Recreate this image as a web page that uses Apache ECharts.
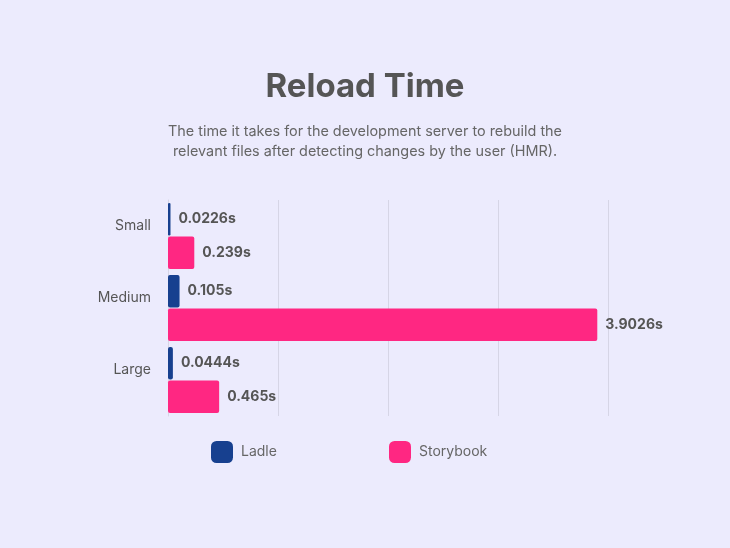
<!DOCTYPE html>
<html>
<head>
<meta charset="utf-8">
<script src="https://cdn.jsdelivr.net/npm/echarts@6/dist/echarts.min.js"></script>
<style>
  html, body { margin: 0; padding: 0; background: #ECEBFD; }
  #chart { width: 730px; height: 548px; }
</style>
</head>
<body>
<div id="chart"></div>
<script>
var categories = ['Small', 'Medium', 'Large'];
var ladle = [0.0226, 0.105, 0.0444];
var storybook = [0.239, 3.9026, 0.465];

var chart = echarts.init(document.getElementById('chart'));

var valueLabel = {
    show: true,
    position: 'right',
    distance: 8,
    fontFamily: 'Inter',
    fontWeight: 'bold',
    fontSize: 14,
    color: '#555555',
    formatter: function (p) { return p.value + 's'; }
};

var legendText = { fontFamily: 'Inter', fontSize: 14, color: '#666666', padding: [0, 0, 0, 3] };

var options = {
    backgroundColor: '#ECEBFD',
    textStyle: { fontFamily: 'Inter' },
    title: [{
        text: 'Reload Time',
        left: 'center',
        top: 66,
        textStyle: { fontFamily: 'Inter', fontSize: 33, fontWeight: 'bold', color: '#555555' }
    }, {
        text: 'The time it takes for the development server to rebuild the\nrelevant files after detecting changes by the user (HMR).',
        left: 'center',
        top: 117,
        textStyle: { fontFamily: 'Inter', fontSize: 14.4, fontWeight: 'normal', color: '#666666', lineHeight: 20, align: 'center' }
    }],
    legend: [{
        data: ['Ladle'],
        left: 206,
        top: 436,
        itemWidth: 22,
        itemHeight: 22,
        icon: 'roundRect',
        textStyle: legendText
    }, {
        data: ['Storybook'],
        left: 384,
        top: 436,
        itemWidth: 22,
        itemHeight: 22,
        icon: 'roundRect',
        textStyle: legendText
    }],
    grid: {
        left: 168,
        right: 122,
        top: 200,
        bottom: 132,
        containLabel: false
    },
    xAxis: {
        type: 'value',
        min: 0,
        max: 4,
        interval: 1,
        axisLabel: { show: false },
        axisLine: { show: false },
        axisTick: { show: false },
        splitLine: { show: true, lineStyle: { color: '#D6D5E6', width: 1 } }
    },
    yAxis: {
        type: 'category',
        inverse: true,
        data: categories,
        axisLine: { show: true, lineStyle: { color: '#D6D5E6' } },
        axisTick: { show: false },
        axisLabel: {
            fontFamily: 'Inter',
            fontSize: 14,
            color: '#555555',
            margin: 17,
            verticalAlign: 'bottom',
            lineHeight: 20
        }
    },
    series: [{
        name: 'Ladle',
        type: 'bar',
        data: ladle,
        barGap: '3%',
        barCategoryGap: '8%',
        itemStyle: { color: '#17408F', borderRadius: 2 },
        label: valueLabel
    }, {
        name: 'Storybook',
        type: 'bar',
        data: storybook,
        barGap: '3%',
        barCategoryGap: '8%',
        itemStyle: { color: '#FF2782', borderRadius: 2 },
        label: valueLabel
    }]
};

chart.setOption(options);
</script>
</body>
</html>
